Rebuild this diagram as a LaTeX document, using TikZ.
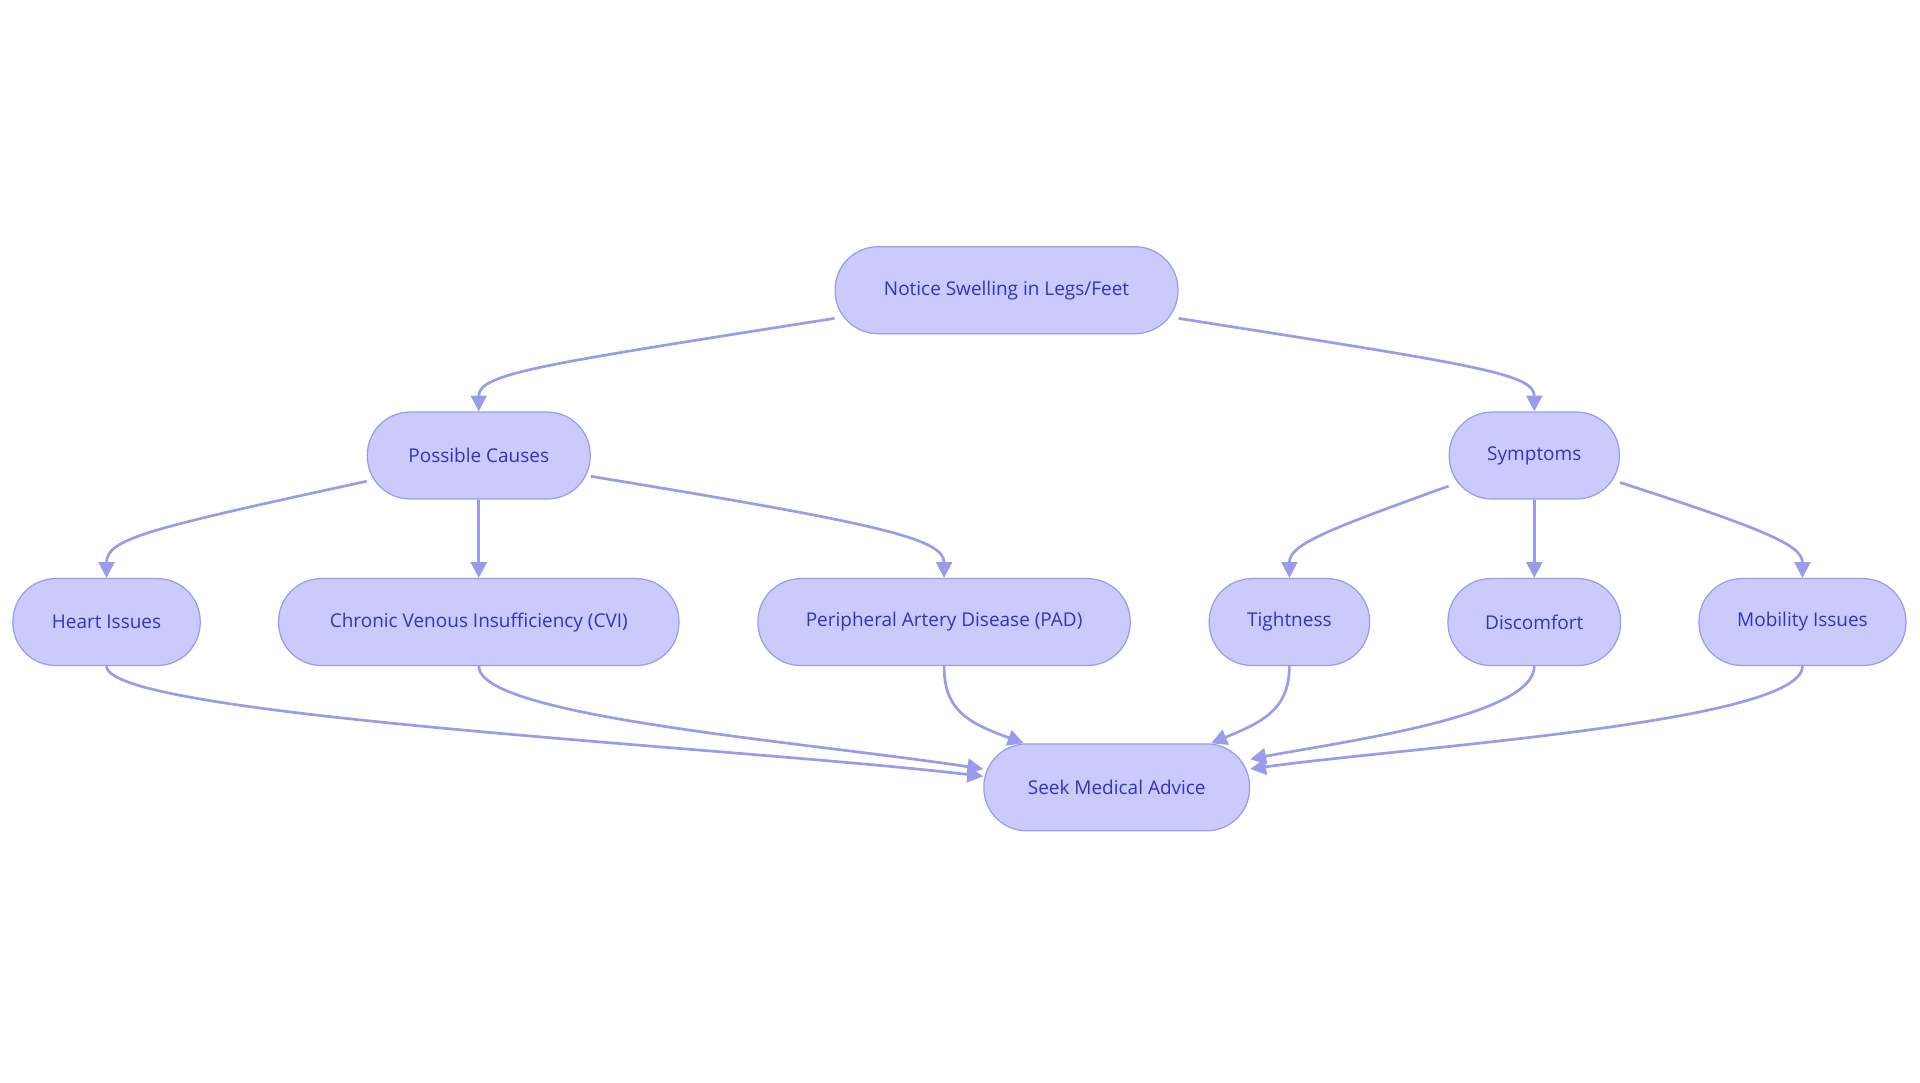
\documentclass[tikz,border=0pt]{standalone}
\usepackage{fontspec}
\setmainfont{Open Sans}
\usetikzlibrary{arrows.meta,calc}
\definecolor{nfill}{HTML}{CACAFD}
\definecolor{nline}{HTML}{9B9BEC}
\definecolor{ntext}{HTML}{3232C4}
\begin{document}
\begin{tikzpicture}[x=1pt,y=-1pt,
  box/.style={draw=nline,fill=nfill,line width=1pt,rounded corners=35pt,minimum height=71pt,text=ntext,font=\fontsize{15.5}{18}\selectfont,inner sep=0pt},
  ed/.style={draw=nline,line width=2.2pt,-{Triangle[length=13pt,width=13pt]}}]
\useasboundingbox (0,0) rectangle (1568,884);
\node[box,minimum width=280pt] (n) at (822,237) {Notice Swelling in Legs/Feet};
\node[box,minimum width=182pt] (pc) at (391,372) {Possible Causes};
\node[box,minimum width=139pt] (sy) at (1253,372) {Symptoms};
\node[box,minimum width=153pt] (hi) at (87,508) {Heart Issues};
\node[box,minimum width=327pt] (cvi) at (391,508) {Chronic Venous Insufficiency (CVI)};
\node[box,minimum width=304pt] (pad) at (771,508) {Peripheral Artery Disease (PAD)};
\node[box,minimum width=131pt] (ti) at (1053,508) {Tightness};
\node[box,minimum width=141pt] (di) at (1253,508) {Discomfort};
\node[box,minimum width=169pt] (mi) at (1472,508) {Mobility Issues};
\node[box,minimum width=217pt] (sm) at (912,643) {Seek Medical Advice};
\draw[ed] ($(n.west)+(0,23)$) .. controls (440,298) and (391,305) .. (pc.north);
\draw[ed] ($(n.east)+(0,23)$) .. controls (1204,298) and (1253,305) .. (sy.north);
\draw[ed] ($(pc.west)+(0,21)$) .. controls (120,432) and (87,440) .. (hi.north);
\draw[ed] (pc.south) -- (cvi.north);
\draw[ed] ($(pc.east)+(0,17)$) .. controls (720,428) and (771,440) .. (pad.north);
\draw[ed] ($(sy.west)+(0,25)$) .. controls (1080,434) and (1053,445) .. (ti.north);
\draw[ed] (sy.south) -- (di.north);
\draw[ed] ($(sy.east)+(0,22)$) .. controls (1440,432) and (1472,445) .. (mi.north);
\draw[ed] (hi.south) .. controls (87,585) and (600,610) .. ($(sm.west)+(0,-9)$);
\draw[ed] (cvi.south) .. controls (391,585) and (650,605) .. ($(sm.west)+(0,-15)$);
\draw[ed] (pad.south) .. controls (771,580) and (790,590) .. ($(sm.north west)+(33,0)$);
\draw[ed] (ti.south) .. controls (1053,580) and (1030,590) .. ($(sm.north east)+(-32,0)$);
\draw[ed] (di.south) .. controls (1253,585) and (1100,605) .. ($(sm.east)+(0,-23)$);
\draw[ed] (mi.south) .. controls (1472,590) and (1150,610) .. ($(sm.east)+(0,-15)$);
\end{tikzpicture}
\end{document}
